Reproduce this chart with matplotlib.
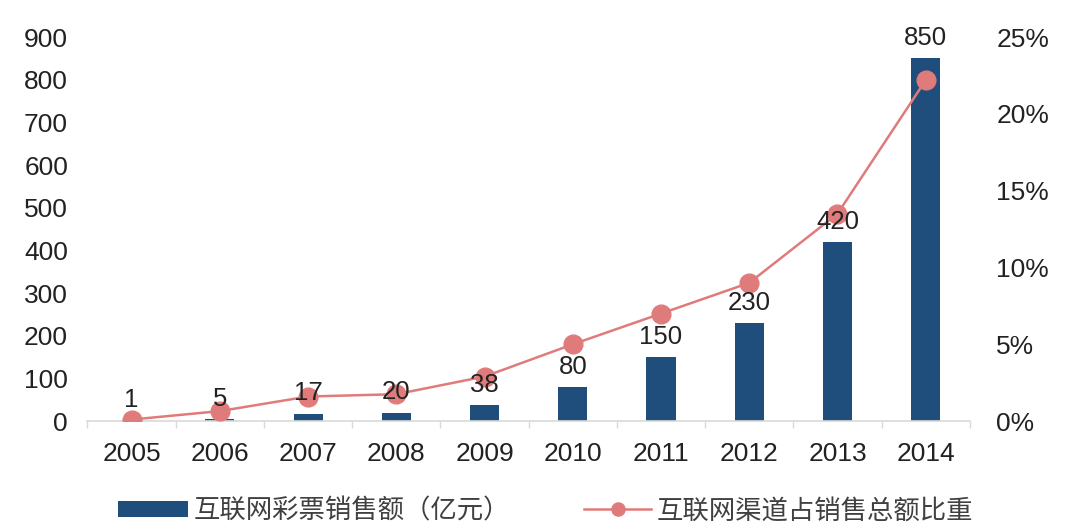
import matplotlib
matplotlib.use('Agg')
import matplotlib.pyplot as plt
import numpy as np

plt.rcParams['font.family'] = ['Liberation Sans', 'Noto Sans CJK SC', 'DejaVu Sans']

# data
years = ['2005', '2006', '2007', '2008', '2009', '2010', '2011', '2012', '2013', '2014']
sales = [1, 5, 17, 20, 38, 80, 150, 230, 420, 850]          # 亿元
share = [0.1, 0.65, 1.6, 1.75, 2.9, 5.0, 7.0, 9.0, 13.5, 22.2]  # %
left_ticks = [0, 100, 200, 300, 400, 500, 600, 700, 800, 900]
right_ticks = [0, 5, 10, 15, 20, 25]
bar_label = '互联网彩票销售额（亿元）'
line_label = '互联网渠道占销售总额比重'

bar_color = '#1f4e7d'
line_color = '#e07b7b'
txt = '#222222'

fig = plt.figure(figsize=(10.8, 5.31), dpi=100)
ax = fig.add_axes([0.081, 0.207, 0.817, 0.723])
x = np.arange(len(years))

bars = ax.bar(x, sales, width=0.33, color=bar_color, zorder=2)
ax.set_ylim(0, 900)
ax.set_xlim(-0.5, len(years) - 0.5)
ax.set_yticks(left_ticks)
ax.set_xticks(x)
ax.set_xticklabels(years)
ax.set_xticks(np.arange(-0.5, len(years), 1), minor=True)
ax.tick_params(axis='y', length=0, pad=14, labelsize=19, labelcolor=txt)
ax.tick_params(axis='x', which='major', length=0, pad=15, labelsize=19, labelcolor=txt)
ax.tick_params(axis='x', which='minor', length=5, color='#d9d9d9', width=1)
for s in ['top', 'left', 'right']:
    ax.spines[s].set_visible(False)
ax.spines['bottom'].set_color('#d9d9d9')
ax.spines['bottom'].set_linewidth(1.2)

ax2 = ax.twinx()
line, = ax2.plot(x, share, color=line_color, lw=1.8, marker='o', markersize=13.5,
                 markerfacecolor=line_color, markeredgecolor=line_color, zorder=3)
ax2.set_ylim(0, 25)
ax2.set_yticks(right_ticks)
ax2.set_yticklabels([f'{t}%' for t in right_ticks])
ax2.tick_params(axis='y', length=0, pad=19, labelsize=19, labelcolor=txt)
for s in ['top', 'left', 'right', 'bottom']:
    ax2.spines[s].set_visible(False)

# bar value labels drawn on top of the line
for xi, v in zip(x, sales):
    ax2.annotate(str(v), (xi, v), xycoords=ax.transData, xytext=(0, 6),
                 textcoords='offset points', ha='center', va='bottom',
                 fontsize=18.5, color=txt, zorder=5)

# legends
fig.legend([bars], [bar_label], loc='center left', bbox_to_anchor=(118 / 1080, 1 - 511 / 531),
           frameon=False, fontsize=19, handlelength=2.65, handleheight=0.57,
           handletextpad=0.2, borderpad=0, borderaxespad=0, labelcolor='#404040')
fig.legend([line], [line_label], loc='center left', bbox_to_anchor=(584 / 1080, 1 - 511 / 531),
           frameon=False, fontsize=19, handlelength=2.55, handletextpad=0.2, markerscale=0.7,
           borderpad=0, borderaxespad=0, labelcolor='#404040')

plt.savefig('out.png', dpi=100)
